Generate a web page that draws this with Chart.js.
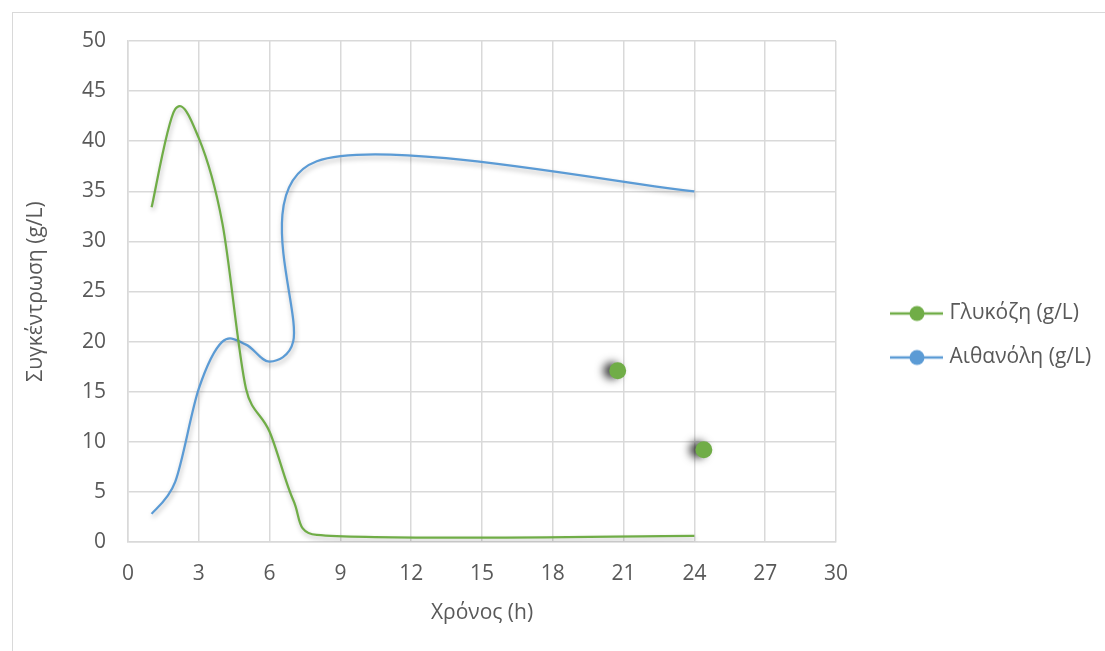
<!DOCTYPE html>
<html>
<head>
<meta charset="utf-8">
<script src="https://cdn.jsdelivr.net/npm/chart.js@4/dist/chart.umd.min.js"></script>
<style>
  html, body { margin: 0; padding: 0; background: #ffffff; }
  #frame { position: absolute; left: 12px; top: 12px; width: 1200px; height: 800px;
           border-left: 1px solid #d9d9d9; border-top: 1px solid #d9d9d9; }
  #wrap { position: absolute; left: 0; top: 0; width: 1105px; height: 651px; }
</style>
</head>
<body>
<div id="frame"></div>
<div id="wrap"><canvas id="c" width="1105" height="651"></canvas></div>
<script>
// ---- data ----
const timeH = [1, 2, 3, 4, 5, 6, 7, 8, 24];
const glucose = [33.4, 43.2, 40.3, 31.8, 15.3, 11.0, 4.2, 0.7, 0.6];
const ethanol = [2.8, 6.0, 15.3, 20.0, 19.7, 18.0, 20.0, 38.0, 35.0];
const extraX = [20.75, 24.4];
const extraY = [17.1, 9.2];
const seriesNames = ['Γλυκόζη (g/L)', 'Αιθανόλη (g/L)'];
const xTitle = 'Χρόνος (h)';
const yTitle = 'Συγκέντρωση (g/L)';

const GREEN = '#70AD47';
const BLUE = '#5B9BD5';
const TEXT = '#595959';
const GRID = '#d9d9d9';
const FONT = "'Open Sans', 'DejaVu Sans', sans-serif";
const FS = 21;

const toXY = (xs, ys) => xs.map((x, i) => ({x: x, y: ys[i]}));

// legend marker: line with a circle (Excel style)
function legendMarker(color) {
  const c = document.createElement('canvas');
  c.width = 88; c.height = 20;
  const g = c.getContext('2d');
  g.strokeStyle = color; g.lineWidth = 2.5;
  g.beginPath(); g.moveTo(35, 10); g.lineTo(88, 10); g.stroke();
  g.fillStyle = color;
  g.beginPath(); g.arc(62, 10, 7.5, 0, Math.PI * 2); g.fill();
  return c;
}
const markers = [legendMarker(GREEN), legendMarker(BLUE)];

const dist = (a, b) => Math.hypot(b.x - a.x, b.y - a.y);

// Excel-like smoothing: handles (next - prev)/6, capped at half the segment length
const excelSmooth = {
  id: 'excelSmooth',
  beforeDatasetDraw(chart, args) {
    const ds = chart.data.datasets[args.index];
    const ctx = chart.ctx;
    ctx.save();
    if (ds.shadowStyle === 'line') {
      ctx.shadowColor = 'rgba(0,0,0,0.28)';
      ctx.shadowBlur = 5; ctx.shadowOffsetX = 1; ctx.shadowOffsetY = 3;
    } else if (ds.shadowStyle === 'dot') {
      ctx.shadowColor = 'rgba(0,0,0,0.75)';
      ctx.shadowBlur = 8; ctx.shadowOffsetX = -6; ctx.shadowOffsetY = 0;
    }
    if (!ds.excelSmooth) return;
    const meta = args.meta;
    const line = meta.dataset;
    if (!line) return;
    line.updateControlPoints(chart.chartArea, meta.indexAxis);
    const pts = meta.data;
    const n = pts.length;
    const f = 1 / 6;
    for (let i = 0; i < n - 1; i++) {
      const p0 = pts[Math.max(i - 1, 0)], p1 = pts[i], p2 = pts[i + 1], p3 = pts[Math.min(i + 2, n - 1)];
      const d12 = dist(p1, p2), d02 = dist(p0, p2), d13 = dist(p1, p3);
      const half = d12 / 2;
      const f1 = (d02 * f < half || d02 === 0) ? f : half / d02;
      const f2 = (d13 * f < half || d13 === 0) ? f : half / d13;
      p1.cp2x = p1.x + f1 * (p2.x - p0.x); p1.cp2y = p1.y + f1 * (p2.y - p0.y);
      p2.cp1x = p2.x - f2 * (p3.x - p1.x); p2.cp1y = p2.y - f2 * (p3.y - p1.y);
    }
    pts[0].cp1x = pts[0].x; pts[0].cp1y = pts[0].y;
    pts[n - 1].cp2x = pts[n - 1].x; pts[n - 1].cp2y = pts[n - 1].y;
    line._path = undefined;
  },
  afterDatasetDraw(chart) {
    chart.ctx.restore();
  },
  beforeLayout(chart) {
    const lg = chart.legend;
    if (lg && !lg._fixedWidth) {
      const orig = lg.fit;
      lg.fit = function () { orig.call(this); this.width = 1105 - 836; };
      lg._fixedWidth = true;
    }
  }
};

new Chart(document.getElementById('c'), {
  type: 'scatter',
  data: {
    datasets: [
      { label: seriesNames[0], data: toXY(timeH, glucose), showLine: true, excelSmooth: true,
        shadowStyle: 'line', borderColor: GREEN, backgroundColor: GREEN, borderWidth: 2.25,
        pointRadius: 0, pointHoverRadius: 0, tension: 0.4 },
      { label: seriesNames[1], data: toXY(timeH, ethanol), showLine: true, excelSmooth: true,
        shadowStyle: 'line', borderColor: BLUE, backgroundColor: BLUE, borderWidth: 2.25,
        pointRadius: 0, pointHoverRadius: 0, tension: 0.4 },
      { label: '', data: toXY(extraX, extraY), showLine: false, shadowStyle: 'dot',
        borderColor: GREEN, backgroundColor: GREEN, pointRadius: 8.5, borderWidth: 0 }
    ]
  },
  options: {
    responsive: false,
    animation: false,
    layout: { padding: { top: 41, left: 0, right: 0, bottom: 21 } },
    scales: {
      x: {
        type: 'linear', min: 0, max: 30,
        ticks: { stepSize: 3, color: TEXT, font: { family: FONT, size: FS }, padding: 19 },
        grid: { color: GRID, lineWidth: 1.5, drawTicks: false },
        border: { color: GRID, width: 1.5 },
        title: { display: true, text: xTitle, color: TEXT, font: { family: FONT, size: FS },
                 padding: { top: 0, bottom: 4.5 } },
        afterFit(s) { s.height = 88; }
      },
      y: {
        type: 'linear', min: 0, max: 50,
        ticks: { stepSize: 5, color: TEXT, font: { family: FONT, size: FS }, padding: 22 },
        grid: { color: GRID, lineWidth: 1.5, drawTicks: false },
        border: { color: GRID, width: 1.5 },
        title: { display: true, text: yTitle, color: TEXT, font: { family: FONT, size: FS },
                 padding: { top: 23, bottom: 0 } },
        afterFit(s) { s.width = 128; }
      }
    },
    plugins: {
      tooltip: { enabled: false },
      legend: {
        position: 'right',
        labels: {
          usePointStyle: true,
          pointStyleWidth: 80,
          padding: 23,
          color: TEXT,
          font: { family: FONT, size: FS },
          generateLabels(chart) {
            return seriesNames.map((name, i) => ({
              text: name, fillStyle: [GREEN, BLUE][i], strokeStyle: [GREEN, BLUE][i],
              lineWidth: 0, pointStyle: markers[i], hidden: false, datasetIndex: i, fontColor: TEXT
            }));
          }
        }
      }
    }
  },
  plugins: [excelSmooth]
});
</script>
</body>
</html>
